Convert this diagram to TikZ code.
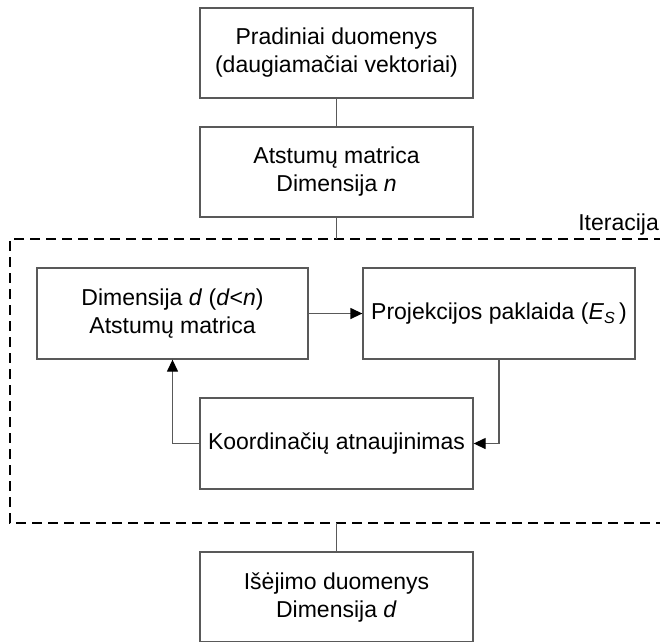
\documentclass[tikz,border=0pt]{standalone}
\usepackage{fontspec}
\setmainfont{Liberation Sans}
\usetikzlibrary{arrows.meta}
\begin{document}
\begin{tikzpicture}[x=1pt,y=-1pt,
  box/.style={draw=black!65, line width=1.3pt, rectangle, align=center,
    minimum width=273pt, minimum height=90pt, inner sep=0pt,
    font=\fontsize{23}{28}\selectfont},
  conn/.style={draw=black!65, line width=1.3pt},
  arr/.style={conn, -{Triangle[length=12pt,width=11pt,color=black]}},
  frame/.style={draw=black, line width=2.4pt, dash pattern=on 10pt off 6pt}]
\useasboundingbox (0,0) rectangle (660,641);
\clip (0,0) rectangle (660,641);
\node[box] (b1) at (336.5,53) {Pradiniai duomenys\\(daugiamačiai vektoriai)};
\node[box] (b2) at (336.5,172) {Atstumų matrica\\Dimensija \textit{n}};
\node[box, minimum width=271pt, minimum height=91pt] (b3) at (172.5,313.5) {Dimensija \textit{d} (\textit{d}<\textit{n})\\Atstumų matrica};
\node[box, minimum width=272pt, minimum height=91pt] (b4) at (499,313.5) {Projekcijos paklaida (\textit{E}\textsubscript{\textit{S}}\,)};
\node[box, minimum height=91pt] (b5) at (336.5,443.5) {Koordinačių atnaujinimas};
\node[box] (b6) at (336.5,597) {Išėjimo duomenys\\Dimensija \textit{d}};
\draw[frame] (680,239) -- (10,239) -- (10,523) -- (680,523);
\node[anchor=base east, inner sep=0pt, font=\fontsize{23}{27}\selectfont] (it) at (659,230) {Iteracija};
\coordinate (ft) at (336.5,239);
\coordinate (fb) at (336.5,523);
\draw[conn] (b1.south) -- (b2.north);
\draw[conn] (b2.south) -- (ft);
\draw[conn] (fb) -- (b6.north);
\draw[arr] (b3.east) -- (b4.west);
\draw[arr] (b4.south) |- (b5.east);
\draw[arr] (b5.west) -| (b3.south);
\end{tikzpicture}
\end{document}
